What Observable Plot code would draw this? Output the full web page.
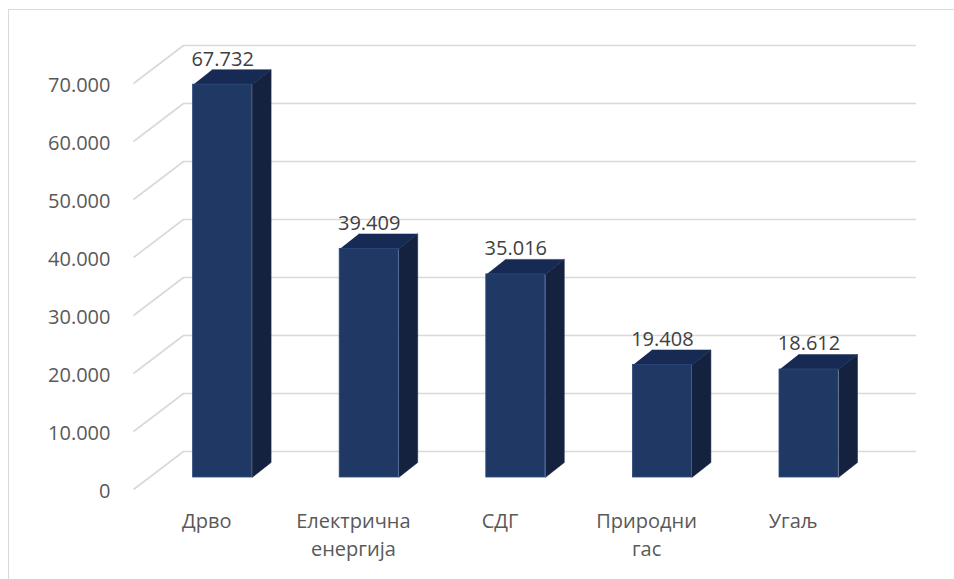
<!DOCTYPE html>
<html>
<head>
<meta charset="utf-8">
<script src="https://cdn.jsdelivr.net/npm/d3@7"></script>
<script src="https://cdn.jsdelivr.net/npm/@observablehq/plot@0.6"></script>
<style>
  html, body { margin: 0; padding: 0; background: #fff; overflow: hidden; }
  #wrap { position: relative; width: 954px; height: 579px; }
  #border { position: absolute; left: 8px; top: 9px; width: 1000px; height: 700px;
            border-left: 1px solid #d9d9d9; border-top: 1px solid #d9d9d9; pointer-events: none; }
</style>
</head>
<body>
<div id="wrap"><div id="border"></div></div>
<script>
// ---- data ----
const categories = ["Дрво", "Електрична\nенергија", "СДГ", "Природни\nгас", "Угаљ"];
const values = [67732, 39409, 35016, 19408, 18612];
const yTicks = [0, 10000, 20000, 30000, 40000, 50000, 60000, 70000];

// ---- layout ----
const W = 954, H = 579;
const mL = 133, mR = 88, mT = 83, mB = 90;
const kx = (W - mL - mR) / categories.length;    // px per category unit
const ky = (H - mT - mB) / 70000;               // px per value unit
const floorDx = 50, floorDy = 38;               // depth of floor (px)
const barDx = 15.8, barDy = -12;                // bar front plane offset (px)
const depthDx = 19, depthDy = 15;               // bar depth (px)
const halfW = 29.5 / kx;

const fmt = d3.formatLocale({decimal: ",", thousands: ".", grouping: [3], currency: ["", ""]}).format(",d");

const rows = categories.map((c, i) => ({i, c, v: values[i]}));
const ddx = depthDx / kx, ddy = depthDy / ky;

const sideFaces = rows.flatMap(d => {
  const xr = d.i + halfW;
  return [[xr, 0], [xr + ddx, ddy], [xr + ddx, d.v + ddy], [xr, d.v]].map(([x, y]) => ({id: d.i, x, y}));
});
const topFaces = rows.flatMap(d => {
  const xl = d.i - halfW, xr = d.i + halfW;
  return [[xl, d.v], [xr, d.v], [xr + ddx, d.v + ddy], [xl + ddx, d.v + ddy]].map(([x, y]) => ({id: d.i, x, y}));
});

const chart = Plot.plot({
  width: W, height: H,
  marginLeft: mL, marginRight: mR, marginTop: mT, marginBottom: mB,
  style: {fontFamily: "'Open Sans', sans-serif", fontSize: "20px", background: "transparent", overflow: "visible"},
  x: {domain: [-0.5, categories.length - 0.5], axis: null},
  y: {domain: [0, 70000], axis: null},
  marks: [
    // gridlines: back wall + floor diagonals
    Plot.ruleY(yTicks, {dx: floorDx, dy: -floorDy, stroke: "#d9d9d9", strokeWidth: 1.6}),
    Plot.link(yTicks, {x1: -0.5, y1: d => d, x2: -0.5 + floorDx / kx, y2: d => d + floorDy / ky,
      stroke: "#d9d9d9", strokeWidth: 1.6}),
    // y tick labels
    Plot.text(yTicks, {x: -0.5, y: d => d, text: d => fmt(d), textAnchor: "end", dx: -23, dy: 2,
      fill: "#595959", fontSize: 20}),
    // bars: side, top, front
    Plot.line(sideFaces, {x: "x", y: "y", z: "id", fill: "#142240", stroke: "#142240", strokeWidth: 0.5,
      dx: barDx, dy: barDy}),
    Plot.line(topFaces, {x: "x", y: "y", z: "id", fill: "#172a54", stroke: "#172a54", strokeWidth: 0.5,
      dx: barDx, dy: barDy}),
    Plot.rect(rows, {x1: d => d.i - halfW, x2: d => d.i + halfW, y1: 0, y2: "v",
      fill: "#1f3864", stroke: "#2c4a80", strokeWidth: 0.8, dx: barDx, dy: barDy}),
    // value labels
    Plot.text(rows, {x: "i", y: "v", text: d => fmt(d.v), dx: barDx, dy: barDy - depthDy - 10.5,
      fill: "#404040", fontSize: 20}),
    // category labels
    Plot.text(rows, {x: "i", y: 0, text: "c", lineAnchor: "top", lineHeight: 1.38, dy: 19,
      fill: "#595959", fontSize: 20})
  ]
});
const wrap = document.getElementById("wrap");
chart.style.position = "absolute";
chart.style.left = "0";
chart.style.top = "0";
wrap.insertBefore(chart, wrap.firstChild);
</script>
</body>
</html>
